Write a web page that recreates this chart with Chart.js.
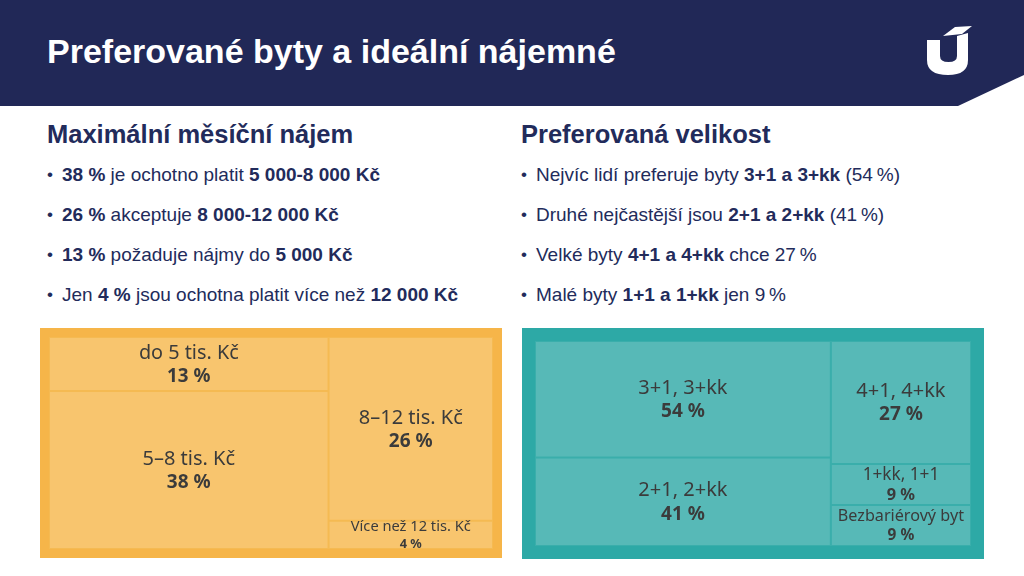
<!DOCTYPE html>
<html lang="cs">
<head>
    <meta charset="UTF-8" />
    <title>Preferované byty a ideální nájemné</title>
    <script src="https://cdn.jsdelivr.net/npm/chart.js"></script>
    <style>
        html, body { margin: 0; padding: 0; }
        body { width: 1024px; height: 576px; position: relative; overflow: hidden; background: #fff;
               font-family: "Liberation Sans", Arial, sans-serif; color: #222b5b; }
        .header { position: absolute; left: 0; top: 0; width: 1024px; height: 106px; background: #212857; }
        .header h1 { position: absolute; left: 47px; top: 34px; margin: 0; font-size: 34px; line-height: 34px;
                     font-weight: bold; color: #fff; }
        .header svg { position: absolute; left: 0; top: 0; }
        .col { position: absolute; top: 122px; }
        .col h2 { margin: 0; font-size: 25.5px; line-height: 25px; font-weight: bold; }
        .col ul { list-style: none; margin: 8px 0 0 0; padding: 0; }
        .col li { position: relative; padding-left: 15px; font-size: 19px; line-height: 40px; white-space: nowrap; }
        .col li::before { content: "•"; position: absolute; left: 0; top: 0; font-size: 17px; }
        .tree { position: absolute; top: 328px; width: 462px; }
        #rentBox { left: 40px; height: 230px; background: #f6b549; }
        #sizeBox { left: 522px; height: 231px; background: #2da9a6; }
    </style>
</head>
<body>
    <div class="header">
        <h1>Preferované byty a ideální nájemné</h1>
        <svg width="1024" height="106">
            <polygon points="958,106 1024,75 1024,106" fill="#fff" />
            <!-- logo -->
            <path d="M927,40 L940,40 L940,56 Q940,62 948.5,62 Q957,62 957,56 L957,36 L968,33 L968,60 Q968,75 948,75 Q927,75 927,60 Z" fill="#fff" />
            <polygon points="943,36 955,27 972,26 962,34" fill="#fff" />
        </svg>
    </div>

    <div class="col" style="left:47px">
        <h2>Maximální měsíční nájem</h2>
        <ul>
            <li><b>38 %</b> je ochotno platit <b>5 000-8 000 Kč</b></li>
            <li><b>26 %</b> akceptuje <b>8 000-12 000 Kč</b></li>
            <li><b>13 %</b> požaduje nájmy do <b>5 000 Kč</b></li>
            <li>Jen <b>4 %</b> jsou ochotna platit více než <b>12 000 Kč</b></li>
        </ul>
    </div>

    <div class="col" style="left:521px">
        <h2>Preferovaná velikost</h2>
        <ul>
            <li>Nejvíc lidí preferuje byty <b>3+1 a 3+kk</b> (54&#8201;%)</li>
            <li>Druhé nejčastější jsou <b>2+1 a 2+kk</b> (41&#8201;%)</li>
            <li>Velké byty <b>4+1 a 4+kk</b> chce 27&#8201;%</li>
            <li>Malé byty <b>1+1 a 1+kk</b> jen 9&#8201;%</li>
        </ul>
    </div>

    <div class="tree" id="rentBox"><canvas id="rentChart"></canvas></div>
    <div class="tree" id="sizeBox"><canvas id="sizeChart"></canvas></div>

    <script>
        // Maximální měsíční nájem
        const rentLabels = ['do 5 tis. Kč', '5–8 tis. Kč', '8–12 tis. Kč', 'Více než 12 tis. Kč'];
        const rentValues = [13, 38, 26, 4];
        const rentGroups = [0, 0, 1, 1];

        // Preferovaná velikost
        const sizeLabels = ['3+1, 3+kk', '2+1, 2+kk', '4+1, 4+kk', '1+kk, 1+1', 'Bezbariérový byt'];
        const sizeValues = [54, 41, 27, 9, 9];
        const sizeGroups = [0, 0, 1, 1, 1];

        // columns side by side, width = column sum, cells stacked inside by share (0..100)
        function layoutCells(labels, values, groups) {
            const nCols = Math.max(...groups) + 1;
            const colSums = new Array(nCols).fill(0);
            values.forEach((v, i) => colSums[groups[i]] += v);
            const cells = [];
            let x = 0;
            for (let c = 0; c < nCols; c++) {
                let y = 0;
                values.forEach((v, i) => {
                    if (groups[i] !== c) return;
                    const h = v / colSums[c] * 100;
                    cells.push({ x: x + colSums[c] / 2, y: y + h / 2, x0: x, x1: x + colSums[c], y0: y, y1: y + h,
                                 label: labels[i], value: v });
                    y += h;
                });
                x += colSums[c];
            }
            return { cells, total: x };
        }

        const treemapCells = {
            id: 'treemapCells',
            beforeDatasetsDraw(chart, args, opts) {
                const { ctx, chartArea, scales: { x, y } } = chart;
                ctx.save();
                ctx.fillStyle = opts.lineColor;
                ctx.fillRect(chartArea.left, chartArea.top, chartArea.width, chartArea.height);
                chart.data.datasets[0].data.forEach(c => {
                    const l = x.getPixelForValue(c.x0), r = x.getPixelForValue(c.x1);
                    const t = y.getPixelForValue(c.y0), b = y.getPixelForValue(c.y1);
                    ctx.fillStyle = opts.cellColor;
                    ctx.fillRect(l + 1, t + 1, r - l - 2, b - t - 2);

                    const w = r - l, h = b - t, cx = (l + r) / 2, cy = (t + b) / 2;
                    let s = Math.min(20, 9 + 0.2 * h);
                    ctx.font = `${s}px "Noto Sans"`;
                    const tw = ctx.measureText(c.label).width;
                    if (tw > w - 14) s = s * (w - 14) / tw;
                    const vs = Math.min(s * 0.95, 0.45 * h);
                    ctx.fillStyle = '#3b3b3b';
                    ctx.textAlign = 'center';
                    ctx.textBaseline = 'middle';
                    ctx.font = `${s}px "Noto Sans"`;
                    ctx.fillText(c.label, cx, cy - 0.55 * s);
                    ctx.font = `bold ${vs}px "Noto Sans"`;
                    ctx.fillText(c.value + ' %', cx, cy + 0.62 * s);
                });
                ctx.restore();
            }
        };

        function makeTreemap(id, labels, values, groups, pad, cellColor, lineColor) {
            const { cells, total } = layoutCells(labels, values, groups);
            return new Chart(document.getElementById(id), {
                type: 'scatter',
                data: { datasets: [{ data: cells, pointRadius: 0 }] },
                options: {
                    responsive: true,
                    maintainAspectRatio: false,
                    animation: false,
                    layout: { padding: pad },
                    scales: {
                        x: { type: 'linear', min: 0, max: total, display: false },
                        y: { type: 'linear', min: 0, max: 100, reverse: true, display: false }
                    },
                    plugins: {
                        legend: { display: false },
                        tooltip: { enabled: false },
                        treemapCells: { cellColor, lineColor }
                    }
                },
                plugins: [treemapCells]
            });
        }

        makeTreemap('rentChart', rentLabels, rentValues, rentGroups, 9, '#f8c56e', '#f5ba52');
        makeTreemap('sizeChart', sizeLabels, sizeValues, sizeGroups, 13, '#57b9b7', '#3aaeab');
    </script>
</body>
</html>
